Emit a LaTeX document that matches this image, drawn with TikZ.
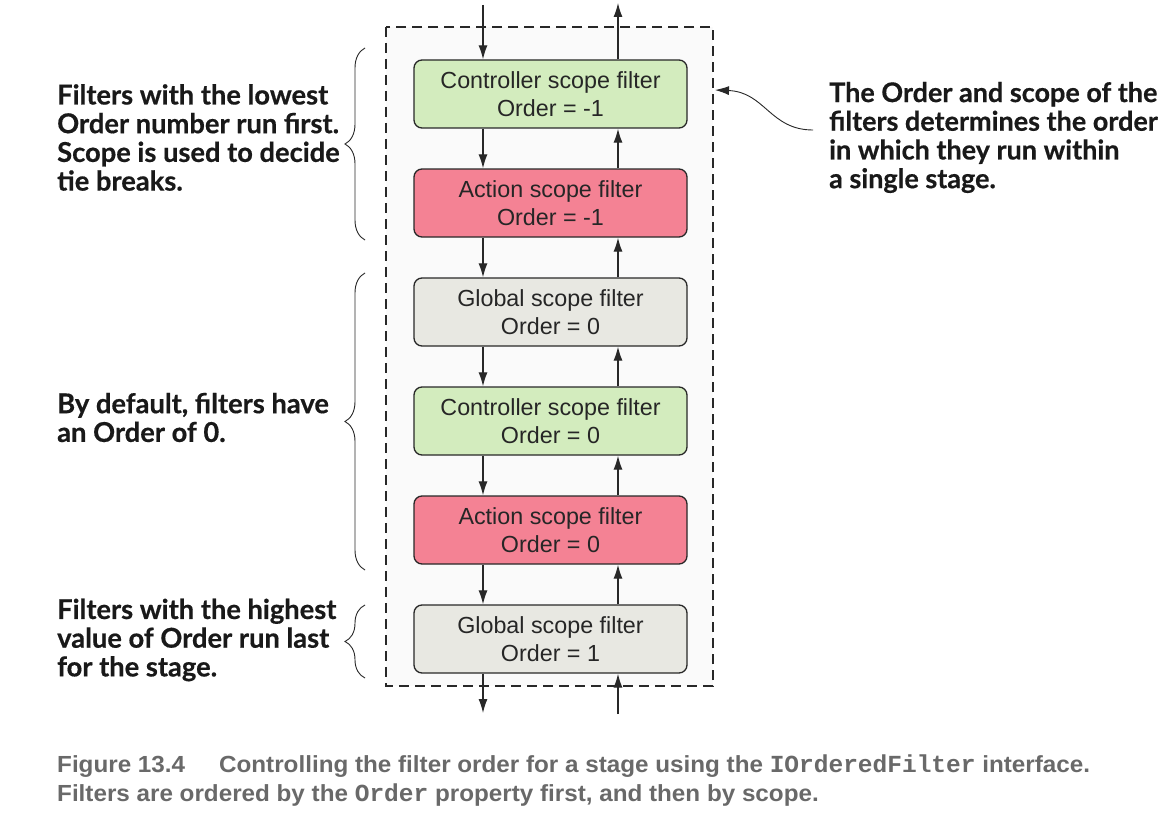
\documentclass[tikz,border=0pt]{standalone}
\usepackage{fontspec}
\setmainfont{Liberation Sans}
\newfontfamily\notefont[FakeBold=0.5]{Lato}
\newfontfamily\capfont[FakeStretch=1.04]{Liberation Sans}
\newfontfamily\capmono{Liberation Mono}
\usetikzlibrary{arrows.meta,decorations.pathreplacing,calc}
\definecolor{boxgreen}{RGB}{211,236,190}
\definecolor{boxred}{RGB}{244,130,148}
\definecolor{boxgray}{RGB}{232,232,226}
\definecolor{edge}{RGB}{40,40,40}
\definecolor{capgray}{RGB}{105,105,105}
\definecolor{panel}{RGB}{250,250,250}
\begin{document}
\begin{tikzpicture}[x=1pt,y=-1pt,
  filterbox/.style={draw=edge,line width=1.3pt,rounded corners=8pt,minimum width=273pt,minimum height=68pt,inner sep=0pt,align=center,font=\fontsize{23.3}{27.5}\selectfont,text=black!85},
  arr/.style={draw=edge,line width=1.2pt,-{Latex[length=14pt,width=9pt]}},
  note/.style={anchor=west,align=left,inner sep=0pt,font=\notefont\bfseries\fontsize{27.3}{28.7}\selectfont,text=black!90},
  bracestyle/.style={draw=edge,line width=0.9pt,decorate,decoration={brace,amplitude=20pt}}]
\useasboundingbox[fill=white] (0,0) rectangle (1170,832);
\draw[dashed,dash pattern=on 10pt off 6pt,line width=1.1pt,draw=edge,fill=panel] (386,27) rectangle (713,686);
\coordinate (L) at (483,0);
\coordinate (R) at (618,0);
\node[filterbox,fill=boxgreen] (b1) at (550.5,94) {Controller scope filter\\Order = -1};
\node[filterbox,fill=boxred]   (b2) at (550.5,203) {Action scope filter\\Order = -1};
\node[filterbox,fill=boxgray]  (b3) at (550.5,312) {Global scope filter\\Order = 0};
\node[filterbox,fill=boxgreen] (b4) at (550.5,421) {Controller scope filter\\Order = 0};
\node[filterbox,fill=boxred]   (b5) at (550.5,530) {Action scope filter\\Order = 0};
\node[filterbox,fill=boxgray]  (b6) at (550.5,639) {Global scope filter\\Order = 1};
\coordinate (inTop) at (483,5);
\coordinate (outTop) at (618,3);
\coordinate (outBot) at (483,713);
\coordinate (inBot) at (618,714);
\draw[arr] (inTop) -- (b1.north -| L);
\draw[arr] (b1.north -| R) -- (outTop);
\foreach \a/\b in {b1/b2,b2/b3,b3/b4,b4/b5,b5/b6}{
  \draw[arr] (\a.south -| L) -- (\b.north -| L);
  \draw[arr] (\b.north -| R) -- (\a.south -| R);
}
\draw[arr] (b6.south -| L) -- (outBot);
\draw[arr] (inBot) -- (b6.south -| R);
% notes
\node[note] (n1) at (57,137.5) {Filters with the lowest\\Order number run first.\\Scope is used to decide\\tie breaks.};
\node[note] (n2) at (57,417.5) {By default, filters have\\an Order of 0.};
\node[note] (n3) at (57,640) {Filters with the highest\\value of Order run last\\for the stage.};
\node[note,font=\notefont\bfseries\fontsize{27}{28.7}\selectfont] (n4) at (829,137.5) {The Order and scope of the\\filters determines the order\\in which they run within\\a single stage.};
% braces
\coordinate (br1a) at (365,240); \coordinate (br1b) at (365,48);
\coordinate (br2a) at (365,570); \coordinate (br2b) at (365,273);
\coordinate (br3a) at (365,678); \coordinate (br3b) at (365,605);
\draw[bracestyle] (br1a) -- (br1b);
\draw[bracestyle] (br2a) -- (br2b);
\draw[bracestyle] (br3a) -- (br3b);
% curved pointer
\coordinate (ptrStart) at (813,130);
\coordinate (ptrEnd) at (715,90);
\draw[draw=edge,line width=0.9pt,-{Latex[length=14pt,width=9pt]}] (ptrStart) .. controls (770,130) and (765,92) .. (ptrEnd);
% caption
\node[anchor=west,align=left,inner sep=0pt,text=capgray,font=\capfont\bfseries\fontsize{23.3}{29}\selectfont] (cap) at (57,780.5)
 {Figure 13.4\hspace{34pt}Controlling the filter order for a stage using the {\capmono\bfseries\fontsize{24.5}{29}\selectfont IOrderedFilter} interface.\\
 Filters are ordered by the {\capmono\bfseries\fontsize{24.5}{29}\selectfont Order} property first, and then by scope.};
\end{tikzpicture}
\end{document}
